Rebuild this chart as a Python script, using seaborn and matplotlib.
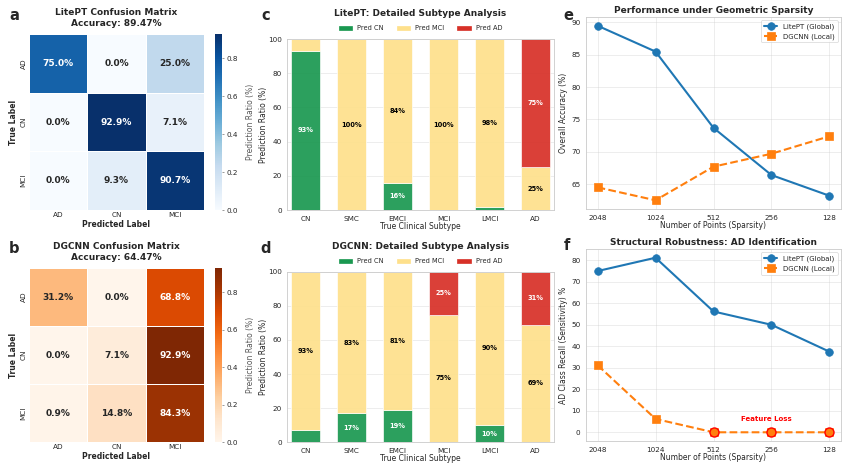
import numpy as np
import pandas as pd
import matplotlib
matplotlib.use("Agg")
import matplotlib.pyplot as plt
import seaborn as sns
from matplotlib.patches import Patch

# ---------------- data ----------------
cm_labels = ["AD", "CN", "MCI"]
litept_cm = [[0.750, 0.000, 0.250],
             [0.000, 0.929, 0.071],
             [0.000, 0.093, 0.907]]
dgcnn_cm = [[0.312, 0.000, 0.688],
            [0.000, 0.071, 0.929],
            [0.009, 0.148, 0.843]]
litept_acc = 89.47
dgcnn_acc = 64.47

subtypes = ["CN", "SMC", "EMCI", "MCI", "LMCI", "AD"]
litept_pred_cn = [93, 0, 16, 0, 2, 0]
litept_pred_mci = [7, 100, 84, 100, 98, 25]
litept_pred_ad = [0, 0, 0, 0, 0, 75]
dgcnn_pred_cn = [7, 17, 19, 0, 10, 0]
dgcnn_pred_mci = [93, 83, 81, 75, 90, 69]
dgcnn_pred_ad = [0, 0, 0, 25, 0, 31]

points = ["2048", "1024", "512", "256", "128"]
litept_oa = [89.5, 85.5, 73.7, 66.4, 63.2]
dgcnn_oa = [64.5, 62.5, 67.7, 69.7, 72.4]
litept_ad_recall = [75.0, 81.2, 56.2, 50.0, 37.5]
dgcnn_ad_recall = [31.2, 6.2, 0.0, 0.0, 0.0]

# ---------------- style ----------------
sns.set_theme(style="whitegrid")
plt.rcParams["font.family"] = ["DejaVu Sans"]
plt.rcParams["grid.alpha"] = 0.5

W, H = 842, 465
fig = plt.figure(figsize=(W / 50, H / 50), dpi=50)


def px(l, t, r, b):
    return [l / W, 1 - b / H, (r - l) / W, (b - t) / H]


TITLE_FS = 13
LABEL_FS = 11
TICK_FS = 10.5


def draw_cm(ax_rect, cax_rect, data, cmap, title):
    ax = fig.add_axes(px(*ax_rect))
    cax = fig.add_axes(px(*cax_rect))
    df = pd.DataFrame(data, index=cm_labels, columns=cm_labels)
    annot = np.array([[f"{v*100:.1f}%" for v in row] for row in data])
    sns.heatmap(df, ax=ax, cbar_ax=cax, cmap=cmap, annot=annot, fmt="",
                annot_kws={"fontsize": 13, "fontweight": "bold"},
                linewidths=1, linecolor="white", vmin=0,
                cbar_kws={"label": "Prediction Ratio (%)"})
    ax.set_title(title, fontsize=TITLE_FS, fontweight="bold", pad=12,
                 linespacing=1.3)
    ax.set_xlabel("Predicted Label", fontsize=LABEL_FS, fontweight="bold",
                  labelpad=2)
    ax.set_ylabel("True Label", fontsize=LABEL_FS, fontweight="bold")
    ax.tick_params(labelsize=TICK_FS, length=0)
    plt.setp(ax.get_yticklabels(), rotation=90, va="center")
    cax.tick_params(labelsize=TICK_FS, length=3, width=0.8, color="0.3")
    cax.set_ylabel("Prediction Ratio (%)", fontsize=LABEL_FS, color="0.35",
                   labelpad=11)
    return ax


draw_cm((29, 34, 204, 210), (215, 34, 222, 210), litept_cm, "Blues",
        f"LitePT Confusion Matrix\nAccuracy: {litept_acc:.2f}%")
draw_cm((29, 268, 204, 442), (215, 268, 222, 442), dgcnn_cm, "Oranges",
        f"DGCNN Confusion Matrix\nAccuracy: {dgcnn_acc:.2f}%")

# ---------------- stacked bars ----------------
C_CN = "#1a9850"
C_MCI = "#fee08b"
C_AD = "#d73027"


def draw_bars(rect, cn, mci, ad, title):
    ax = fig.add_axes(px(*rect))
    x = np.arange(len(subtypes))
    cn = np.array(cn, float)
    mci = np.array(mci, float)
    ad = np.array(ad, float)
    kw = dict(width=0.62, edgecolor="white", linewidth=1, alpha=0.92)
    ax.bar(x, cn, color=C_CN, **kw)
    ax.bar(x, mci, bottom=cn, color=C_MCI, **kw)
    ax.bar(x, ad, bottom=cn + mci, color=C_AD, **kw)
    for i in range(len(x)):
        for val, base, col in ((cn[i], 0, "white"), (mci[i], cn[i], "black"),
                               (ad[i], cn[i] + mci[i], "white")):
            if val > 8:
                ax.text(x[i], base + val / 2, f"{val:.0f}%", ha="center",
                        va="center", fontsize=9.5, fontweight="bold", color=col)
    ax.set_xlim(-0.4, 5.4)
    ax.set_ylim(0, 100)
    ax.set_xticks(x)
    ax.set_xticklabels(subtypes)
    ax.tick_params(axis="x", labelsize=TICK_FS, pad=2)
    ax.tick_params(axis="y", labelsize=TICK_FS, pad=1)
    ax.set_xlabel("True Clinical Subtype", fontsize=LABEL_FS, labelpad=1)
    ax.set_ylabel("Prediction Ratio (%)", fontsize=LABEL_FS, labelpad=1)
    ax.xaxis.grid(False)
    ax.set_title(title, fontsize=TITLE_FS, fontweight="bold", pad=33)
    handles = [Patch(color=C_CN, label="Pred CN"),
               Patch(color=C_MCI, label="Pred MCI"),
               Patch(color=C_AD, label="Pred AD")]
    ax.legend(handles=handles, loc="lower center", bbox_to_anchor=(0.5, 1.0),
              ncol=3, frameon=False, fontsize=9.5, handlelength=2.0,
              handleheight=0.5, columnspacing=2.0, borderaxespad=0.8)
    return ax


draw_bars((287, 39, 554, 210), litept_pred_cn, litept_pred_mci, litept_pred_ad,
          "LitePT: Detailed Subtype Analysis")
draw_bars((287, 272, 554, 442), dgcnn_pred_cn, dgcnn_pred_mci, dgcnn_pred_ad,
          "DGCNN: Detailed Subtype Analysis")

# ---------------- line plots ----------------
C_BLUE = "#1f77b4"
C_ORANGE = "#ff7f0e"


def draw_lines(rect, a, b, title, ylabel):
    ax = fig.add_axes(px(*rect))
    x = np.arange(len(points))
    ax.plot(x, a, "-o", color=C_BLUE, lw=3, ms=11, label="LitePT (Global)")
    ax.plot(x, b, "--s", color=C_ORANGE, lw=3, ms=11, label="DGCNN (Local)")
    ax.set_xticks(x)
    ax.set_xticklabels(points)
    ax.tick_params(labelsize=TICK_FS, pad=2)
    ax.set_xlabel("Number of Points (Sparsity)", fontsize=LABEL_FS, labelpad=1)
    ax.set_ylabel(ylabel, fontsize=LABEL_FS)
    ax.set_title(title, fontsize=TITLE_FS, fontweight="bold", pad=6)
    ax.legend(loc="upper right", fontsize=10, frameon=True)
    return ax


draw_lines((586, 17, 841, 209), litept_oa, dgcnn_oa,
           "Performance under Geometric Sparsity", "Overall Accuracy (%)")
axf = draw_lines((586, 249, 841, 441), litept_ad_recall, dgcnn_ad_recall,
                 "Structural Robustness: AD Identification",
                 "AD Class Recall (Sensitivity) %")
zero_idx = [i for i, v in enumerate(dgcnn_ad_recall) if v == 0]
axf.plot(zero_idx, [dgcnn_ad_recall[i] for i in zero_idx], "o", ls="none",
         ms=13, mfc=C_ORANGE, mec="red", mew=2, zorder=5)
axf.text(2.92, 6, "Feature Loss", color="red", fontsize=10, fontweight="bold",
         ha="center", va="center")

# ---------------- panel letters ----------------
for letter, (xp, yp) in {"a": (14, 15), "b": (14, 248), "c": (266, 15),
                         "d": (266, 248), "e": (568, 15), "f": (567, 245)}.items():
    fig.text(xp / W, 1 - yp / H, letter, fontsize=21, fontweight="bold",
             ha="center", va="center")

fig.savefig("out.png", dpi=50)
